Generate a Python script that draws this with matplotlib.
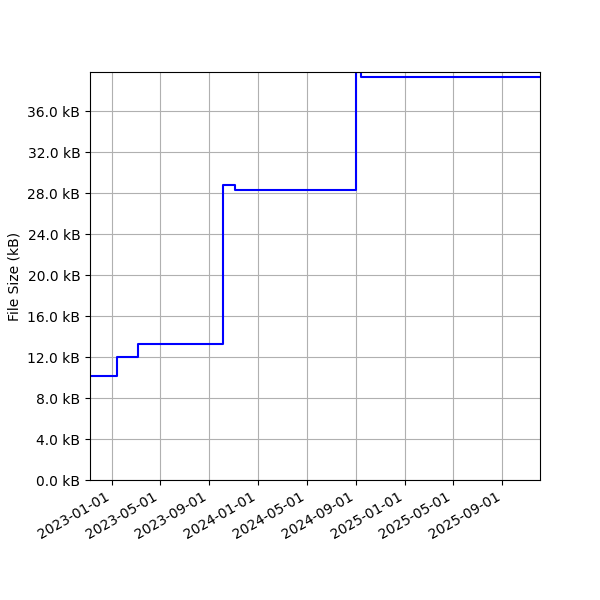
import matplotlib
matplotlib.use("Agg")
import matplotlib.pyplot as plt
import matplotlib.dates as mdates
import matplotlib.ticker as mticker
from datetime import datetime

dates = ["2022-11-08", "2023-01-15", "2023-03-07", "2023-05-18", "2023-10-05",
         "2023-11-04", "2024-09-01", "2024-09-13", "2025-12-04"]
sizes_kb = [10.14, 12.0, 13.27, 13.33, 28.86, 28.3, 39.85, 39.35, 39.35]

x = [datetime.strptime(d, "%Y-%m-%d") for d in dates]

fig = plt.figure(figsize=(6, 6), dpi=100)
ax = fig.add_axes([0.15, 0.2, 0.75, 0.68])
ax.step(x, sizes_kb, where="post", color="blue", linewidth=1.5)
ax.set_xlim(x[0], x[-1])
ax.set_ylim(0, max(sizes_kb))
ax.yaxis.set_major_locator(mticker.MultipleLocator(4))
ax.yaxis.set_major_formatter(mticker.FuncFormatter(lambda v, p: f"{v:.1f} kB"))
ax.xaxis.set_major_locator(mdates.MonthLocator(bymonth=[1, 5, 9]))
ax.xaxis.set_major_formatter(mdates.DateFormatter("%Y-%m-%d"))
ax.set_ylabel("File Size (kB)")
ax.grid(True)
for lbl in ax.get_xticklabels():
    lbl.set_rotation(30)
    lbl.set_ha("right")
fig.savefig("out.png", dpi=100)
